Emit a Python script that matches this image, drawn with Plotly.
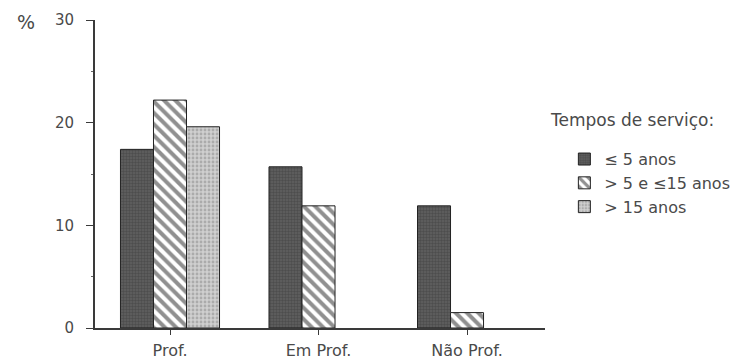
import plotly.graph_objects as go

categories = ["Prof.", "Em Prof.", "Não Prof."]
series_names = ["≤ 5 anos", "> 5 e ≤15 anos", "> 15 anos"]
le5 = [17.4, 15.7, 11.9]
mid = [22.2, 11.9, 1.5]
gt15 = [19.6, None, None]
y_ticks = [0, 10, 20, 30]

FONT = "DejaVu Sans"
TXT = "#4a4a4a"

fig = go.Figure()
fig.add_trace(go.Bar(
    x=categories, y=le5, name=series_names[0],
    marker=dict(color="#555555", line=dict(color="#222222", width=1),
                pattern=dict(shape=".", fgcolor="#3a3a3a", bgcolor="#606060", size=3, solidity=0.5)),
))
fig.add_trace(go.Bar(
    x=categories, y=mid, name=series_names[1],
    marker=dict(color="white", line=dict(color="#222222", width=1),
                pattern=dict(shape="\\", fgcolor="#222222", bgcolor="white", size=8, solidity=0.5)),
))
fig.add_trace(go.Bar(
    x=categories, y=gt15, name=series_names[2],
    marker=dict(color="#bbbbbb", line=dict(color="#222222", width=1),
                pattern=dict(shape=".", fgcolor="#888888", bgcolor="#cfcfcf", size=4, solidity=0.4)),
))

fig.update_layout(
    width=734, height=353,
    margin=dict(l=87, r=197, t=12, b=33, autoexpand=False),
    paper_bgcolor="white", plot_bgcolor="white",
    barmode="group", bargap=0.333, bargroupgap=0,
    font=dict(family=FONT, size=15, color=TXT),
    showlegend=True,
    legend=dict(
        xref="container", yref="container",
        x=0.758, y=0.620, xanchor="left", yanchor="top",
        font=dict(family=FONT, size=16, color=TXT),
        tracegroupgap=0, itemwidth=30, bgcolor="rgba(0,0,0,0)",
    ),
    xaxis=dict(
        range=[-0.505, 2.525], showgrid=False, zeroline=False, automargin=False,
        showline=True, linecolor="#3a3a3a", linewidth=1.5,
        ticks="outside", ticklen=5, tickcolor="#3a3a3a",
        ticklabelstandoff=2,
        tickfont=dict(family=FONT, size=16, color=TXT),
    ),
    yaxis=dict(
        range=[0, 30], tickvals=y_ticks, showgrid=False, zeroline=False, automargin=False,
        showline=True, linecolor="#3a3a3a", linewidth=1.8,
        ticks="outside", ticklen=7, tickcolor="#3a3a3a",
        ticklabelstandoff=9,
        tickfont=dict(family=FONT, size=15, color=TXT),
        minor=dict(dtick=5, ticks="outside", ticklen=2, tickcolor="#666666"),
    ),
    annotations=[
        dict(text="%", xref="paper", yref="paper", x=-0.153, y=0.994,
             xanchor="center", yanchor="middle", showarrow=False,
             font=dict(family=FONT, size=19, color=TXT)),
        dict(text="Tempos de serviço:", xref="paper", yref="paper",
             x=1.0067, y=0.675, xanchor="left", yanchor="middle", showarrow=False,
             font=dict(family=FONT, size=17, color=TXT)),
    ],
)

fig.write_html("out.html")
